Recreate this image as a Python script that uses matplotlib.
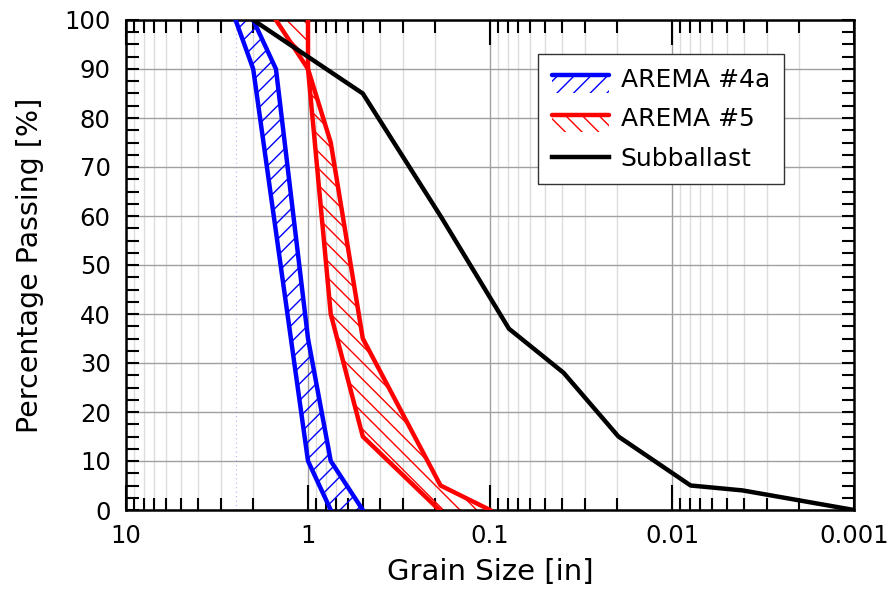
import matplotlib
matplotlib.use("Agg")
import matplotlib.pyplot as plt
from matplotlib.legend_handler import HandlerBase
from matplotlib.patches import Rectangle
from matplotlib.lines import Line2D
from matplotlib.ticker import LogLocator, MultipleLocator, FixedLocator, NullFormatter

# gradation bands (size in inches, % passing)
a4_coarse_size = [2.5, 2.0, 1.0, 0.75]
a4_coarse_pass = [100, 90, 10, 0]
a4_fine_size = [2.0, 1.5, 1.0, 0.75, 0.5]
a4_fine_pass = [100, 90, 35, 10, 0]

a5_coarse_size = [1.5, 1.0, 0.75, 0.5, 0.19]
a5_coarse_pass = [100, 90, 40, 15, 0]
a5_fine_size = [1.0, 1.0, 0.75, 0.5, 0.187, 0.1]
a5_fine_pass = [100, 90, 75, 35, 5, 0]

sub_size = [2.0, 0.5, 0.187, 0.0787, 0.0394, 0.0197, 0.0079, 0.0041, 0.001]
sub_pass = [100, 85, 60, 37, 28, 15, 5, 4, 0]

plt.rcParams['font.family'] = ['DejaVu Sans']
plt.rcParams['hatch.linewidth'] = 1.0


class BandHandler(HandlerBase):
    # thick line with hatched strip underneath
    def create_artists(self, legend, orig_handle, xdescent, ydescent,
                       width, height, fontsize, trans):
        col = orig_handle.get_edgecolor()
        yc = height / 2 - ydescent + 0.15 * height
        strip = Rectangle((-xdescent, yc - 1.0 * height), width, 1.0 * height,
                          facecolor='none', edgecolor=col, lw=0,
                          hatch=orig_handle.get_hatch(), transform=trans)
        line = Line2D([-xdescent, -xdescent + width], [yc, yc], color=col,
                      lw=3.2, solid_capstyle='round', transform=trans)
        return [strip, line]


fig = plt.figure(figsize=(8.91, 6.04), dpi=100)
ax = fig.add_axes([126 / 891, 1 - 510 / 604, 728 / 891, 490 / 604])

bands = []
for cs, cp, fs, fp, col, hatch in [
        (a4_coarse_size, a4_coarse_pass, a4_fine_size, a4_fine_pass, 'blue', '//'),
        (a5_coarse_size, a5_coarse_pass, a5_fine_size, a5_fine_pass, 'red', '\\\\')]:
    xs = cs + fs[::-1]
    ys = cp + fp[::-1]
    poly = ax.fill(xs, ys, facecolor='none', edgecolor=col, lw=0, hatch=hatch, zorder=2)[0]
    ax.plot(cs, cp, color=col, lw=3.2, zorder=3, solid_joinstyle='round')
    ax.plot(fs, fp, color=col, lw=3.2, zorder=3, solid_joinstyle='round')
    bands.append(poly)

ax.axvline(a4_coarse_size[0], color='#8080ff', lw=0.8, ls=(0, (1, 3)), alpha=0.6, zorder=1)

sub_line, = ax.plot(sub_size, sub_pass, color='black', lw=3.2, zorder=3,
                    solid_joinstyle='round')

ax.set_xscale('log')
ax.set_xlim(10, 0.001)
ax.set_ylim(0, 100)

ax.xaxis.set_major_locator(FixedLocator([10, 1, 0.1, 0.01, 0.001]))
ax.set_xticklabels(['10', '1', '0.1', '0.01', '0.001'])
ax.xaxis.set_minor_locator(LogLocator(base=10, subs=range(2, 10)))
ax.xaxis.set_minor_formatter(NullFormatter())
ax.yaxis.set_major_locator(MultipleLocator(10))
ax.yaxis.set_minor_locator(MultipleLocator(2.5))

ax.grid(True, which='major', color='#a0a0a0', lw=1.0, zorder=0)
ax.grid(True, which='minor', axis='x', color='#dcdcdc', lw=1.0, zorder=0)
ax.set_axisbelow(True)

ax.tick_params(which='both', direction='in', top=True, right=True, width=1.5,
               labelsize=17.5, colors='black')
ax.tick_params(axis='x', which='major', length=18, pad=10)
ax.tick_params(axis='x', which='minor', length=9)
ax.tick_params(axis='y', which='both', length=9, pad=11)
for s in ax.spines.values():
    s.set_linewidth(1.8)

ax.set_xlabel('Grain Size [in]', fontsize=21)
ax.set_ylabel('Percentage Passing [%]', fontsize=20.5)
ax.xaxis.set_label_coords(0.5, -0.098)
ax.yaxis.set_label_coords(-0.113, 0.5)

leg = ax.legend([bands[0], bands[1], sub_line],
                ['AREMA #4a', 'AREMA #5', 'Subballast'],
                handler_map={bands[0]: BandHandler(), bands[1]: BandHandler()},
                loc='upper left', bbox_to_anchor=(0.566, 0.931),
                borderaxespad=0, fontsize=18, handlelength=2.3,
                labelspacing=0.62, borderpad=0.55, handletextpad=0.45,
                fancybox=False, framealpha=1, edgecolor='#333333')
leg.get_frame().set_linewidth(1.0)
leg.set_zorder(5)

fig.savefig('out.png', dpi=100)
